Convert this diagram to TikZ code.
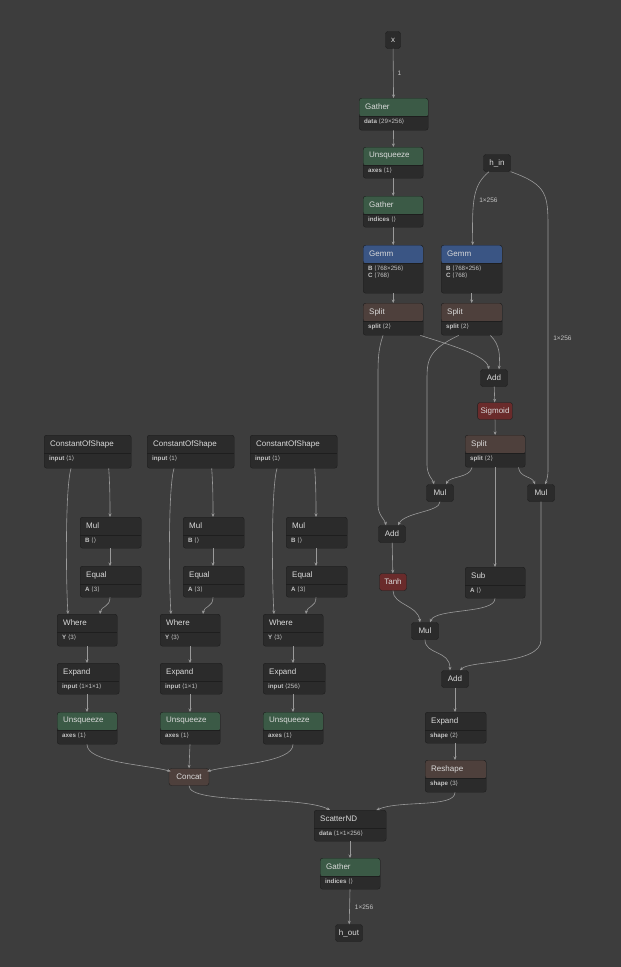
\documentclass[tikz,border=0pt]{standalone}
\usepackage{fontspec}
\setmainfont{Liberation Sans}
\newfontfamily\dvfont{DejaVu Sans}
\usetikzlibrary{arrows.meta,positioning}
\definecolor{bgc}{HTML}{3D3D3D}
\definecolor{bodyc}{HTML}{2B2B2B}
\definecolor{linec}{HTML}{1E1E1E}
\definecolor{txtc}{HTML}{DADADA}
\definecolor{attc}{HTML}{C4C4C4}
\definecolor{edgec}{HTML}{9A9A9A}
\definecolor{greenh}{HTML}{3B5A46}
\definecolor{blueh}{HTML}{3A5584}
\definecolor{brownh}{HTML}{4E403C}
\definecolor{redh}{HTML}{6A2B2B}
\tikzset{
  op/.style={rectangle, draw=linec, fill=bodyc, rounded corners=2.5pt, inner sep=0pt},
  hdr/.style={path picture={\fill[#1] (path picture bounding box.north west) rectangle ([yshift=-18pt]path picture bounding box.north east);
      \draw[linec] ([yshift=-18pt]path picture bounding box.north west) -- ([yshift=-18pt]path picture bounding box.north east);}},
  title/.style={text=txtc, font=\fontsize{8}{9}\selectfont, anchor=west, inner sep=0pt},
  attr/.style={text=attc, font=\fontsize{6.2}{8}\selectfont, align=left, inner sep=0pt},
  small/.style={rectangle, draw=linec, fill=bodyc, rounded corners=2.5pt, text=txtc,
      font=\fontsize{8}{9}\selectfont, minimum height=17pt, minimum width=27pt, inner sep=3pt},
  edge/.style={draw=edgec, line width=0.6pt, -{Stealth[length=3.5pt,width=3pt]}},
  elabel/.style={text=attc, font=\fontsize{6.5}{7}\selectfont, inner sep=1pt}
}
\newcommand\av[1]{{\dvfont\char"27E8}#1{\dvfont\char"27E9}}
% #1 header colour, #2 name, #3 left, #4 top, #5 width, #6 height, #7 title, #8 attributes
\newcommand\opnode[8]{%
  \node[op, hdr=#1, minimum width=#5, minimum height=#6, anchor=north west] (#2) at (#3,#4) {};
  \node[title] at ([xshift=6,yshift=-9]#2.north west) {#7};
  \node[attr, anchor=north west] at ([xshift=5,yshift=-21]#2.north west) {#8};}

\begin{document}
\begin{tikzpicture}[x=1pt,y=-1pt]
  \fill[bgc] (0,0) rectangle (621,967);
  \useasboundingbox (0,0) rectangle (621,967);

  % right part
  \node[small, minimum width=15pt] (x) at (393,40) {x};
  \opnode{greenh}{gat1}{359}{98}{69}{32}{Gather}{\textbf{data} \av{29×256}}
  \opnode{greenh}{unsq1}{363}{147}{60}{31}{Unsqueeze}{\textbf{axes} \av{1}}
  \opnode{greenh}{gat2}{363}{196}{60}{31}{Gather}{\textbf{indices} \av{}}
  \opnode{blueh}{gemm1}{363}{245}{60}{48}{Gemm}{\textbf{B} \av{768×256}\\[-1pt]\textbf{C} \av{768}}
  \opnode{blueh}{gemm2}{441}{245}{61}{48}{Gemm}{\textbf{B} \av{768×256}\\[-1pt]\textbf{C} \av{768}}
  \node[small] (hin) at (497,163) {h\_in};
  \opnode{brownh}{split1}{363}{303}{60}{32}{Split}{\textbf{split} \av{2}}
  \opnode{brownh}{split2}{441}{303}{61}{32}{Split}{\textbf{split} \av{2}}
  \node[small] (add1) at (494,378) {Add};
  \node[small, fill=redh] (sig) at (495,411) {Sigmoid};
  \opnode{brownh}{split3}{465}{435}{60}{32}{Split}{\textbf{split} \av{2}}
  \node[small] (rmul1) at (440,493) {Mul};
  \node[small] (rmul2) at (541,493) {Mul};
  \node[small] (add2) at (392,534) {Add};
  \node[small, fill=redh] (tanh) at (393,582) {Tanh};
  \opnode{}{sub}{465}{567}{60}{31}{Sub}{\textbf{A} \av{}}
  \node[small] (rmul3) at (425,631) {Mul};
  \node[small] (add3) at (455,679) {Add};
  \opnode{}{exp4}{425}{712}{61}{31}{Expand}{\textbf{shape} \av{2}}
  \opnode{brownh}{resh}{425}{760}{61}{32}{Reshape}{\textbf{shape} \av{3}}
  \opnode{}{scat}{314}{810}{72}{31}{ScatterND}{\textbf{data} \av{1×1×256}}
  \opnode{greenh}{gat3}{320}{858}{60}{31}{Gather}{\textbf{indices} \av{}}
  \node[small] (hout) at (349,933) {h\_out};
  \node[small, fill=brownh, minimum width=40pt] (concat) at (189,777) {Concat};

  % left columns
  \foreach \c/\dx/\inp in {1/0/1×1×1, 2/103/1×1, 3/206/256}{
    \opnode{}{cos\c}{44+\dx}{435}{87}{33}{ConstantOfShape}{\textbf{input} \av{1}}
    \opnode{}{mul\c}{80+\dx}{517}{61}{31}{Mul}{\textbf{B} \av{}}
    \opnode{}{eq\c}{80+\dx}{566}{61}{31}{Equal}{\textbf{A} \av{3}}
    \opnode{}{wh\c}{57+\dx}{614}{60}{32}{Where}{\textbf{Y} \av{3}}
    \opnode{}{ex\c}{57+\dx}{663}{62}{31}{Expand}{\textbf{input} \av{\inp}}
    \opnode{greenh}{un\c}{57+\dx}{712}{60}{32}{Unsqueeze}{\textbf{axes} \av{1}}
    \draw[edge] ([xshift=21]cos\c.south) .. controls ([xshift=30,yshift=30]mul\c.north west) and ([xshift=30,yshift=15]mul\c.north west) .. ([xshift=30]mul\c.north west);
    \draw[edge] ([xshift=27]cos\c.south west) .. controls ([xshift=21,yshift=-20]cos\c.south west) and ([xshift=9,yshift=30]wh\c.north west) .. ([xshift=11]wh\c.north west);
    \draw[edge] ([xshift=30]mul\c.south west) -- ([xshift=30]eq\c.north west);
    \draw[edge] ([xshift=30]eq\c.south west) .. controls ([xshift=30,yshift=-10]eq\c.south west) and ([xshift=44,yshift=8]wh\c.north west) .. ([xshift=43]wh\c.north west);
    \draw[edge] ([xshift=30]wh\c.south west) -- ([xshift=30]ex\c.north west);
    \draw[edge] ([xshift=30]ex\c.south west) -- ([xshift=30]un\c.north west);
  }
  \draw[edge] ([xshift=30]un1.south west) .. controls ([xshift=30,yshift=-18]un1.south west) and ([xshift=-25,yshift=4]concat.north west) .. ([xshift=2,yshift=-3]concat.north west);
  \draw[edge] ([xshift=30]un2.south west) -- (concat.north);
  \draw[edge] ([xshift=30]un3.south west) .. controls ([xshift=30,yshift=-18]un3.south west) and ([xshift=25,yshift=4]concat.north east) .. ([xshift=-2,yshift=-3]concat.north east);

  % right edges
  \draw[edge] (x) -- node[elabel, right=3pt] {1} (gat1);
  \draw[edge] (gat1) -- (unsq1);
  \draw[edge] (unsq1) -- (gat2);
  \draw[edge] (gat2) -- (gemm1);
  \draw[edge] (gemm1) -- (split1);
  \draw[edge] ([xshift=-8]hin.south) .. controls (473,185) and (472,200) .. node[elabel, right=4pt, pos=0.55] {1×256} ([xshift=1]gemm2.north);
  \draw[edge] (hin.south east) .. controls (548,185) and (548,195) .. (548,230) -- node[elabel, right=4pt, pos=0.45] {1×256} (548,470) .. controls (548,478) and (546,482) .. ([xshift=4]rmul2.north);
  \draw[edge] (gemm2) -- (split2);
  \draw[edge] ([xshift=-3]split1.south east) .. controls (450,345) and (486,355) .. ([xshift=-5]add1.north);
  \draw[edge] ([xshift=-12]split2.south east) .. controls (500,345) and (500,355) .. ([xshift=5]add1.north);
  \draw[edge] ([xshift=20]split1.south west) .. controls (378,350) and (378,360) .. (378,380) -- (378,505) .. controls (378,515) and (385,520) .. ([xshift=-6]add2.north);
  \draw[edge] ([xshift=-13]split2.south) .. controls (428,350) and (427,360) .. (427,380) -- (427,465) .. controls (427,475) and (433,480) .. ([xshift=-6]rmul1.north);
  \draw[edge] (add1) -- (sig);
  \draw[edge] (sig) -- (split3);
  \draw[edge] ([xshift=7]split3.south west) .. controls (470,478) and (450,476) .. ([xshift=6]rmul1.north);
  \draw[edge] ([xshift=30]split3.south west) -- ([xshift=30]sub.north west);
  \draw[edge] ([xshift=-7]split3.south east) .. controls (520,478) and (532,476) .. ([xshift=-6]rmul2.north);
  \draw[edge] (rmul1.south) .. controls (440,512) and (405,512) .. ([xshift=6]add2.north);
  \draw[edge] (add2) -- (tanh);
  \draw[edge] (tanh.south) .. controls (393,605) and (418,605) .. ([xshift=-5]rmul3.north);
  \draw[edge] ([xshift=30]sub.south west) .. controls (495,614) and (436,608) .. ([xshift=5]rmul3.north);
  \draw[edge] (rmul3.south) .. controls (425,655) and (450,650) .. ([xshift=-5]add3.north);
  \draw[edge] (rmul2.south) -- (541,640) .. controls (541,665) and (470,660) .. ([xshift=5]add3.north);
  \draw[edge] (add3) -- ([xshift=30]exp4.north west);
  \draw[edge] ([xshift=30]exp4.south west) -- ([xshift=30]resh.north west);
  \draw[edge] ([xshift=30]resh.south west) .. controls (455,808) and (400,800) .. ([xshift=-10]scat.north east);
  \draw[edge] (concat.south) .. controls (189,805) and (300,795) .. ([xshift=16]scat.north west);
  \draw[edge] ([xshift=36]scat.south west) -- ([xshift=30]gat3.north west);
  \draw[edge] ([xshift=30]gat3.south west) -- node[elabel, right=4pt] {1×256} (hout);
\end{tikzpicture}
\end{document}
